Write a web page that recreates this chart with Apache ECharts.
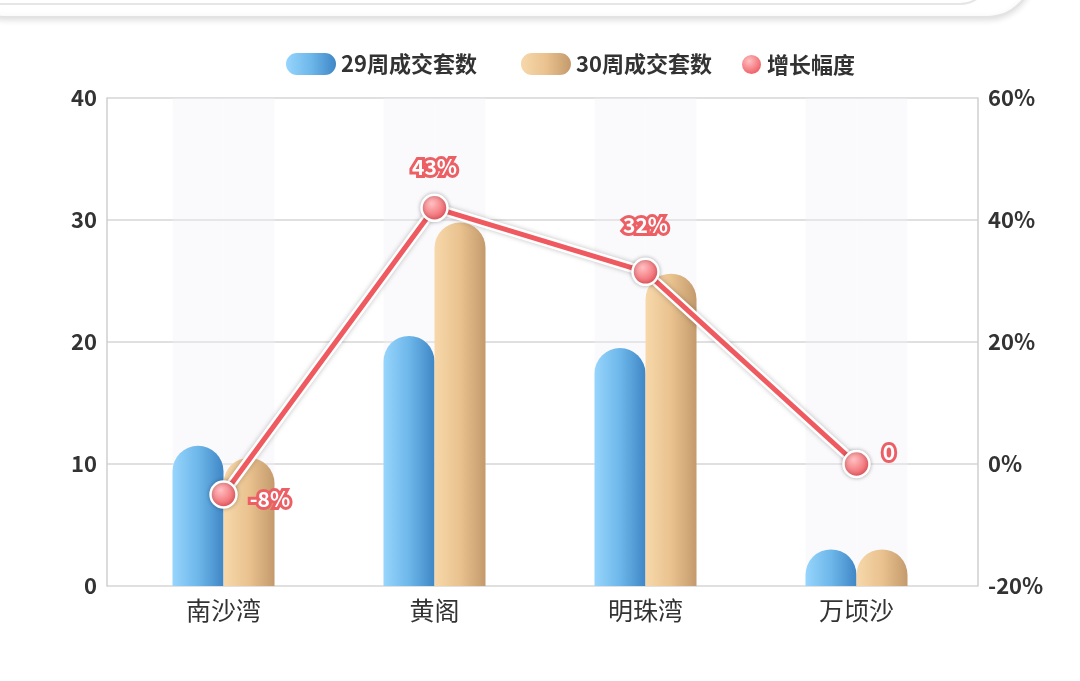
<!DOCTYPE html>
<html>
<head>
<meta charset="utf-8">
<script src="https://cdn.jsdelivr.net/npm/echarts@6/dist/echarts.min.js"></script>
<style>
html,body{margin:0;padding:0;background:#fff;}
#c{width:1080px;height:681px;}
</style>
</head>
<body>
<div id="c"></div>
<script>
const categories = ['南沙湾', '黄阁', '明珠湾', '万顷沙'];
const week29 = [11.5, 20.5, 19.5, 3];
const week30 = [10.5, 29.8, 25.6, 3];
const growth = [-5, 42, 31.5, 0];
const growthLabels = ['-8%', '43%', '32%', '0'];
const leftTicks = { min: 0, max: 40, interval: 10 };
const rightTicks = { min: -20, max: 60, interval: 20 };

const FONT = '"Noto Sans CJK SC","Noto Sans",sans-serif';
const labelPos = ['right', 'top', 'top', 'right'];
const labelOffset = [[0, 5], [0, 0], [0, 0], [0, -12]];
const labelDist = [12, 16, 22, 12];

const blueGrad = new echarts.graphic.LinearGradient(0, 0, 1, 0, [
  { offset: 0, color: '#97d5fc' },
  { offset: 0.5, color: '#6db7ea' },
  { offset: 1, color: '#3f87c6' }
]);
const orangeGrad = new echarts.graphic.LinearGradient(0, 0, 1, 0, [
  { offset: 0, color: '#f7d8aa' },
  { offset: 0.5, color: '#e9c28f' },
  { offset: 1, color: '#c49a6c' }
]);
const dotGrad = new echarts.graphic.RadialGradient(0.4, 0.35, 0.7, [
  { offset: 0, color: '#ffc0c2' },
  { offset: 1, color: '#ec4d55' }
]);

const chart = echarts.init(document.getElementById('c'));
const pill = 'path://M11,0 H39 A11,11 0 0 1 39,22 H11 A11,11 0 0 1 11,0 Z';

chart.setOption({
  backgroundColor: '#fff',
  animation: false,
  graphic: [
    { type: 'rect', z: 1, shape: { x: -40, y: -80, width: 1073, height: 97, r: 46 },
      style: { fill: '#fff', stroke: '#e3e3e3', lineWidth: 2, shadowBlur: 6, shadowColor: 'rgba(0,0,0,0.12)', shadowOffsetY: 2 } },
    { type: 'rect', z: 2, shape: { x: -40, y: -80, width: 1030, height: 84, r: 30 },
      style: { fill: 'none', stroke: '#e6e6e6', lineWidth: 2 } }
  ],
  legend: [
    {
      left: 281, top: 48, itemWidth: 50, itemHeight: 22, itemGap: 44,
      data: [{ name: '29周成交套数', icon: pill }, { name: '30周成交套数', icon: pill }],
      textStyle: { fontFamily: FONT, fontSize: 22, fontWeight: 'bold', color: '#333' }
    },
    {
      left: 735, top: 48, itemWidth: 21, itemHeight: 21,
      data: [{ name: '增长幅度', icon: 'circle' }],
      textStyle: { fontFamily: FONT, fontSize: 22, fontWeight: 'bold', color: '#333' }
    }
  ],
  grid: [
    { left: 107, right: 102, top: 98, bottom: 95 },
    { left: 118, right: 118, top: 98, bottom: 95 }
  ],
  xAxis: [
    { gridIndex: 0, type: 'category', data: categories, show: false },
    { gridIndex: 1, type: 'category', data: categories,
      axisLine: { show: false }, axisTick: { show: false },
      axisLabel: { margin: 12, fontFamily: FONT, fontSize: 25, color: '#333' } }
  ],
  yAxis: [
    { gridIndex: 0, type: 'value', min: leftTicks.min, max: leftTicks.max, interval: leftTicks.interval,
      axisLine: { show: true, lineStyle: { color: '#cfcfcf', width: 1.5 } },
      axisTick: { show: false },
      splitLine: { lineStyle: { color: '#d6d6d6', width: 1.5 } },
      axisLabel: { margin: 10, fontFamily: FONT, fontSize: 22, fontWeight: 'bold', color: '#333' } },
    { gridIndex: 0, type: 'value', position: 'right', min: rightTicks.min, max: rightTicks.max, interval: rightTicks.interval,
      axisLine: { show: true, lineStyle: { color: '#cfcfcf', width: 1.5 } },
      axisTick: { show: false }, splitLine: { show: false },
      axisLabel: { margin: 10, formatter: '{value}%', fontFamily: FONT, fontSize: 22, fontWeight: 'bold', color: '#333' } },
    { gridIndex: 1, type: 'value', min: leftTicks.min, max: leftTicks.max, show: false },
    { gridIndex: 1, type: 'value', min: rightTicks.min, max: rightTicks.max, show: false }
  ],
  series: [
    {
      name: '29周成交套数', type: 'bar', xAxisIndex: 1, yAxisIndex: 2,
      data: week29, barWidth: 51, barGap: '0%',
      showBackground: true, backgroundStyle: { color: 'rgba(242,242,246,0.35)' },
      itemStyle: { color: blueGrad, borderRadius: [26, 26, 0, 0] }
    },
    {
      name: '30周成交套数', type: 'bar', xAxisIndex: 1, yAxisIndex: 2,
      data: week30, barWidth: 51, barGap: '0%',
      showBackground: true, backgroundStyle: { color: 'rgba(242,242,246,0.35)' },
      itemStyle: { color: orangeGrad, borderRadius: [26, 26, 0, 0] }
    },
    {
      name: 'glow', type: 'line', xAxisIndex: 1, yAxisIndex: 3, data: growth,
      symbol: 'none', silent: true, z: 3,
      lineStyle: { color: '#fff', width: 10, shadowBlur: 5, shadowColor: 'rgba(0,0,0,0.25)' }
    },
    {
      name: '增长幅度', type: 'line', xAxisIndex: 1, yAxisIndex: 3, z: 4,
      data: growth.map((v, i) => ({
        value: v,
        label: { position: labelPos[i], offset: labelOffset[i], distance: labelDist[i] }
      })),
      symbol: 'circle', symbolSize: 26,
      itemStyle: { color: dotGrad, borderColor: '#fff', borderWidth: 2.5, shadowBlur: 4, shadowColor: 'rgba(0,0,0,0.25)' },
      lineStyle: { color: '#ee5a60', width: 5 },
      label: {
        show: true,
        formatter: p => growthLabels[p.dataIndex],
        fontFamily: FONT, fontSize: 21, fontWeight: 'bold', color: '#fff',
        textBorderColor: '#ec5f65', textBorderWidth: 6
      }
    }
  ]
});
</script>
</body>
</html>
